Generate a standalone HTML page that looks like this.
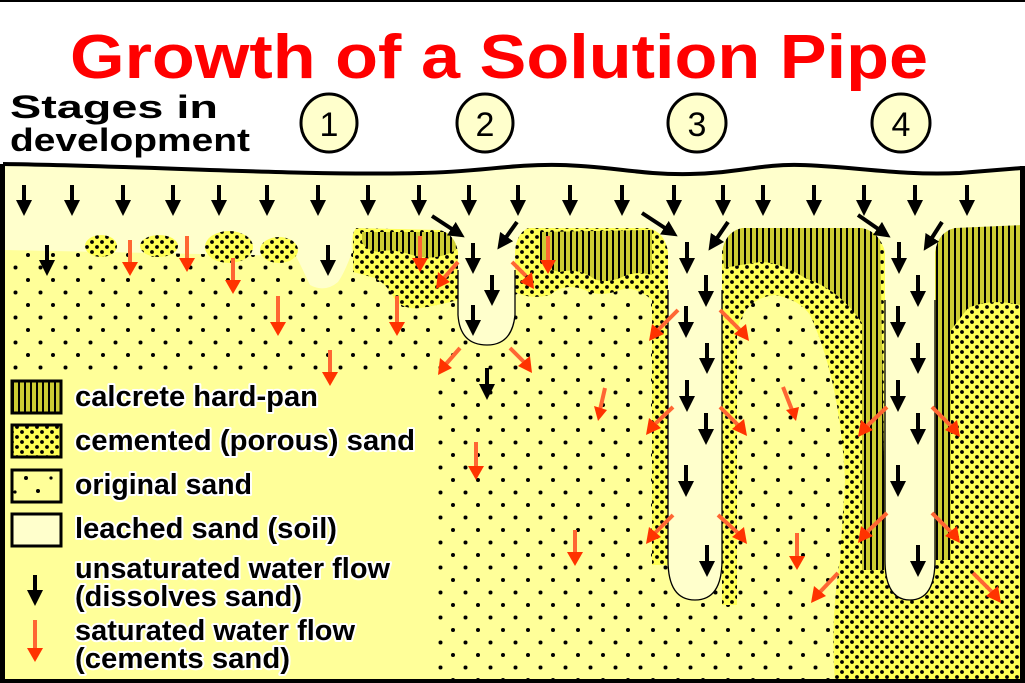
<!DOCTYPE html>
<html><head><meta charset="utf-8"><style>html,body{margin:0;padding:0;background:#fff}svg{display:block}</style></head>
<body>
<svg width="1025" height="683" viewBox="0 0 1025 683" xmlns="http://www.w3.org/2000/svg" font-family="Liberation Sans, Arial, sans-serif">
<defs>
<pattern id="orig" width="25" height="25" patternUnits="userSpaceOnUse">
<rect width="25" height="25" fill="#ffff99"/>
<circle cx="3" cy="5" r="2" fill="#000"/><circle cx="15.5" cy="17.5" r="2" fill="#000"/>
</pattern>
<pattern id="cem" width="10" height="10" patternUnits="userSpaceOnUse">
<rect width="10" height="10" fill="#ffff55"/>
<circle cx="2" cy="2" r="1.9" fill="#000"/><circle cx="7" cy="7" r="1.9" fill="#000"/>
</pattern>
<pattern id="calc" width="6" height="6" patternUnits="userSpaceOnUse">
<rect width="6" height="6" fill="#cccc33"/><rect x="0" width="2" height="6" fill="#000"/>
</pattern>
<marker id="bh" viewBox="0 0 10 10" refX="5" refY="5" markerWidth="4" markerHeight="4" orient="auto"><path d="M0,0 L10,5 L0,10Z" fill="#000"/></marker>
</defs>

<rect width="1025" height="683" fill="#fff"/>
<rect x="4" y="160" width="1018" height="523" fill="url(#orig)"/>

<g fill="url(#cem)">
<path d="M353,228 L458,230 L458,300 Q440,305 420,308 Q405,310 395,300 Q388,285 375,278 L353,272 Z"/>
<path d="M515,228 L668,228 L668,565 L652,565 L652,300 Q635,285 620,290 Q600,298 585,290 Q565,282 550,295 Q530,300 515,292 Z"/>
<path d="M722,228 L1020,228 L1020,683 L830,683 L830,605 L722,605 Z"/>
</g>
<path d="M737,683 L737,330 Q745,298 775,295 Q800,300 810,315 Q840,380 845,480 L840,560 Q830,620 835,683 Z" fill="url(#orig)"/>

<g fill="url(#calc)">
<path d="M362,232 L455,232 L456,250 Q435,262 412,255 Q392,248 378,252 Q366,250 362,242 Z"/>
<path d="M540,232 L652,230 L652,275 Q635,270 620,278 Q600,285 590,276 Q575,268 560,272 Q548,270 540,262 Z"/>
<path d="M722,228 L880,228 L886,570 L862,570 L862,323 Q840,290 805,278 Q780,262 760,262 Q740,265 724,268 Z"/>
<path d="M935,228 L1020,225 L1020,305 Q990,298 968,308 L951,330 L951,560 L935,560 Z"/>
</g>

<path d="M4,160 L1022,160 L1022,225 L955,228 Q938,232 935,252 L935,560 Q935,600 910,600 Q885,600 885,560 L885,252 Q880,232 862,228 L742,228 Q725,232 722,252 L722,560 Q722,600 695,600 Q668,600 668,560 L668,252 Q665,232 648,228 L528,228 Q516,234 515,252 L515,315 Q512,345 487,345 Q460,345 458,315 L458,252 Q455,234 440,230 L356,228 Q350,236 352,252 Q345,272 338,282 Q325,293 310,285 Q302,268 296,256 L4,250 Z" fill="#ffffcc"/>
<g fill="url(#cem)">
<ellipse cx="101" cy="246" rx="16" ry="11"/>
<ellipse cx="159" cy="246" rx="19" ry="11"/>
<ellipse cx="229" cy="247" rx="24" ry="16"/>
<ellipse cx="279" cy="250" rx="19" ry="13"/>
</g>
<g fill="none" stroke="#000" stroke-width="1.3">
<path d="M458,270 L458,315 Q460,345 487,345 Q512,345 515,315 L515,270"/>
<path d="M668,290 L668,560 Q668,600 695,600 Q722,600 722,560 L722,290"/>
<path d="M885,300 L885,560 Q885,600 910,600 Q935,600 935,560 L935,300"/>
</g>

<path d="M4,372 L435,372 L435,683 L4,683 Z" fill="#ffff99"/>

<path d="M3,164 C150,166 300,176 420,173 C480,172 510,164 560,165 C610,166 640,175 690,174 C740,173 760,164 800,165 C850,166 900,176 960,173 L1022,168 L1022,0 L3,0 Z" fill="#fff"/>
<path d="M3,164 C150,166 300,176 420,173 C480,172 510,164 560,165 C610,166 640,175 690,174 C740,173 760,164 800,165 C850,166 900,176 960,173 L1022,168" fill="none" stroke="#000" stroke-width="4"/>
<rect x="0" y="164" width="5" height="519" fill="#000"/>
<rect x="1020" y="166" width="5" height="517" fill="#000"/>
<rect x="0" y="679" width="1025" height="4" fill="#000"/>
<rect x="0" y="0" width="1025" height="2" fill="#000"/>

<text x="70" y="78" font-size="62" font-weight="bold" fill="#ff0000" textLength="858" lengthAdjust="spacingAndGlyphs">Growth of a Solution Pipe</text>
<text x="10" y="118" font-size="32" font-weight="bold" fill="#000" textLength="208" lengthAdjust="spacingAndGlyphs">Stages in</text>
<text x="10" y="151" font-size="32" font-weight="bold" fill="#000" textLength="240" lengthAdjust="spacingAndGlyphs">development</text>
<g fill="#ffffcc" stroke="#000" stroke-width="3">
<ellipse cx="329" cy="123" rx="28" ry="29"/><ellipse cx="485" cy="123" rx="28" ry="29"/>
<ellipse cx="697" cy="123" rx="29" ry="29"/><ellipse cx="901" cy="123" rx="29" ry="29"/>
</g>
<g font-size="34" text-anchor="middle" fill="#000">
<text x="329" y="136">1</text><text x="485" y="136">2</text><text x="697" y="136">3</text><text x="901" y="136">4</text>
</g>

<g stroke="#000" stroke-width="4" marker-end="url(#bh)">
<path d="M24,185 L24,208"/><path d="M72,185 L72,208"/><path d="M123,185 L123,208"/><path d="M173,185 L173,208"/><path d="M219,185 L219,208"/><path d="M267,185 L267,208"/><path d="M318,185 L318,208"/><path d="M368,185 L368,208"/><path d="M419,185 L419,208"/><path d="M469,185 L469,208"/><path d="M518,185 L518,208"/><path d="M570,185 L570,208"/><path d="M622,185 L622,208"/><path d="M674,185 L674,208"/><path d="M723,185 L723,208"/><path d="M763,185 L763,208"/><path d="M814,185 L814,208"/><path d="M864,185 L864,208"/><path d="M915,185 L915,208"/><path d="M967,185 L967,208"/>
<path d="M47,245 L47,268"/>
<path d="M328,245 L328,268"/>
<path d="M432,216 L458,233"/><path d="M517,222 L502,243"/>
<path d="M473,243 L473,266"/><path d="M492,275 L492,298"/><path d="M473,305 L473,328"/><path d="M487,368 L487,392"/>
<path d="M642,213 L671,232"/><path d="M728,222 L713,244"/>
<path d="M858,215 L884,233"/><path d="M942,222 L928,244"/>
<path d="M687,242 L687,266"/><path d="M706,275 L706,299"/><path d="M686,306 L686,330"/><path d="M707,343 L707,366"/><path d="M687,380 L687,404"/><path d="M706,413 L706,437"/><path d="M686,465 L686,489"/><path d="M707,545 L707,569"/>
<path d="M899,242 L899,266"/><path d="M918,275 L918,299"/><path d="M898,306 L898,330"/><path d="M918,343 L918,366"/><path d="M898,380 L898,404"/><path d="M918,413 L918,437"/><path d="M898,465 L898,489"/><path d="M918,545 L918,569"/>
<path d="M35,575 L35,598"/>
</g>

<g stroke="#ff6633" stroke-width="4">
<path d="M130,240 L130,262"/><path d="M187,236 L187,258"/><path d="M233,258 L233,280"/><path d="M278,296 L278,322"/><path d="M397,296 L397,322"/><path d="M330,350 L330,372"/><path d="M420,236 L420,258"/><path d="M548,236 L548,260"/><path d="M476,442 L476,466"/><path d="M575,530 L575,552"/><path d="M797,533 L797,556"/><path d="M35,620 L35,648"/>
<path d="M458,262 L444,278"/><path d="M512,262 L526,276"/><path d="M460,348 L446,364"/><path d="M510,348 L524,362"/>
<path d="M678,310 L658,330"/><path d="M720,310 L740,330"/><path d="M673,407 L655,424"/><path d="M720,407 L738,425"/><path d="M673,515 L655,533"/><path d="M718,515 L738,533"/><path d="M783,387 L792,410"/><path d="M605,388 L600,410"/><path d="M838,573 L820,592"/>
<path d="M887,407 L867,426"/><path d="M932,407 L951,426"/><path d="M887,513 L867,532"/><path d="M932,513 L951,532"/><path d="M973,573 L992,592"/>
</g>
<g fill="#ff3300">
<path d="M122,262 L138,262 L130,276Z"/><path d="M179,258 L195,258 L187,272Z"/><path d="M225,280 L241,280 L233,294Z"/><path d="M270,322 L286,322 L278,336Z"/><path d="M389,322 L405,322 L397,336Z"/><path d="M322,372 L338,372 L330,386Z"/><path d="M412,258 L428,258 L420,272Z"/><path d="M540,260 L556,260 L548,274Z"/><path d="M468,466 L484,466 L476,480Z"/><path d="M567,552 L583,552 L575,566Z"/><path d="M789,556 L805,556 L797,570Z"/><path d="M27,648 L43,648 L35,662Z"/>
<path d="M438,272 L450,282 L436,289Z"/><path d="M532,272 L520,282 L534,289Z"/>
<path d="M440,358 L452,368 L438,375Z"/><path d="M530,356 L518,366 L532,373Z"/>
<path d="M652,324 L664,334 L649,341Z"/><path d="M746,324 L734,334 L749,341Z"/>
<path d="M649,418 L661,428 L646,435Z"/><path d="M744,419 L732,429 L747,436Z"/>
<path d="M649,527 L661,537 L646,544Z"/><path d="M744,527 L732,537 L747,544Z"/>
<path d="M786,410 L799,407 L796,421Z"/><path d="M594,406 L607,410 L598,421Z"/>
<path d="M814,586 L826,596 L811,603Z"/>
<path d="M861,420 L873,430 L858,437Z"/><path d="M957,420 L945,430 L960,437Z"/>
<path d="M861,526 L873,536 L858,543Z"/><path d="M957,526 L945,536 L960,543Z"/>
<path d="M998,586 L986,596 L1001,603Z"/>
</g>

<rect x="12" y="381" width="49" height="32" fill="url(#calc)" stroke="#000" stroke-width="3"/>
<rect x="12" y="425" width="49" height="32" fill="url(#cem)" stroke="#000" stroke-width="3"/>
<rect x="12" y="470" width="49" height="32" fill="#ffff99" stroke="#000" stroke-width="3"/>
<circle cx="26" cy="478" r="2"/><circle cx="38" cy="491" r="2"/><circle cx="51" cy="478" r="1.6"/><circle cx="15" cy="492" r="1.6"/>
<rect x="12" y="514" width="49" height="32" fill="#ffffcc" stroke="#000" stroke-width="3"/>
<g font-size="29" font-weight="bold" fill="#000" stroke="#fff" stroke-width="4" paint-order="stroke" stroke-linejoin="round" lengthAdjust="spacingAndGlyphs">
<text x="75" y="406" textLength="243" lengthAdjust="spacingAndGlyphs">calcrete hard-pan</text>
<text x="75" y="450" textLength="340" lengthAdjust="spacingAndGlyphs">cemented (porous) sand</text>
<text x="75" y="494" textLength="177" lengthAdjust="spacingAndGlyphs">original sand</text>
<text x="75" y="538" textLength="262" lengthAdjust="spacingAndGlyphs">leached sand (soil)</text>
<text x="75" y="578" textLength="315" lengthAdjust="spacingAndGlyphs">unsaturated water flow</text>
<text x="75" y="606" textLength="227" lengthAdjust="spacingAndGlyphs">(dissolves sand)</text>
<text x="75" y="640" textLength="280" lengthAdjust="spacingAndGlyphs">saturated water flow</text>
<text x="75" y="668" textLength="215" lengthAdjust="spacingAndGlyphs">(cements sand)</text>
</g>
</svg>
</body></html>
